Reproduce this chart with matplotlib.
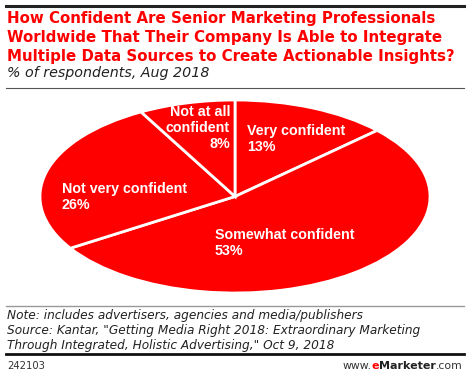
import matplotlib
matplotlib.use("Agg")
import matplotlib.pyplot as plt
from matplotlib.lines import Line2D

categories = ["Very confident", "Somewhat confident", "Not very confident", "Not at all confident"]
values = [13, 53, 26, 8]

RED = "#FF0000"
W, H = 470, 376
fig = plt.figure(figsize=(W / 100, H / 100), dpi=100)
bg = fig.add_axes([0, 0, 1, 1])
bg.set_xlim(0, W)
bg.set_ylim(H, 0)
bg.axis("off")

# rules
bg.add_line(Line2D([6, 464], [6, 6], color="#222222", lw=2.2))
bg.add_line(Line2D([6, 464], [88, 88], color="#555555", lw=0.8))
bg.add_line(Line2D([6, 464], [306, 306], color="#999999", lw=1.0))
bg.add_line(Line2D([6, 464], [354, 354], color="#111111", lw=2.0))

title = ("How Confident Are Senior Marketing Professionals\n"
         "Worldwide That Their Company Is Able to Integrate\n"
         "Multiple Data Sources to Create Actionable Insights?")
bg.text(7, 11, title, color=RED, fontsize=10.8, fontweight="bold",
        va="top", ha="left", linespacing=1.34, family="DejaVu Sans")
bg.text(7, 73.5, "% of respondents, Aug 2018", color="#222222", fontsize=10.3,
        style="italic", va="center", ha="left")

notes = ("Note: includes advertisers, agencies and media/publishers\n"
         "Source: Kantar, \"Getting Media Right 2018: Extraordinary Marketing\n"
         "Through Integrated, Holistic Advertising,\" Oct 9, 2018")
bg.text(7, 309, notes, color="#222222", fontsize=8.7, style="italic",
        va="top", ha="left", linespacing=1.22)
bg.text(7, 366, "242103", color="#333333", fontsize=7.2, va="center", ha="left")

# pie (elliptical)
cx0, cx1, cy0, cy1 = 40, 430, 100, 293
pax = fig.add_axes([cx0 / W, 1 - cy1 / H, (cx1 - cx0) / W, (cy1 - cy0) / H])
pax.pie(values, startangle=90, counterclock=False, colors=[RED] * 4,
        wedgeprops=dict(edgecolor="white", linewidth=2.0))
pax.set_aspect("auto")
pax.set_xlim(-1.0, 1.0)
pax.set_ylim(-1.0, 1.0)
pax.axis("off")

# overlay for labels
ov = fig.add_axes([0, 0, 1, 1])
ov.set_xlim(0, W)
ov.set_ylim(H, 0)
ov.axis("off")
ov.patch.set_alpha(0)

lab = dict(color="white", fontsize=10.3, fontweight="bold", linespacing=1.15,
           family="Liberation Sans")
ov.text(230, 128, "Not at all\nconfident\n8%", ha="right", va="center", **lab)
ov.text(247, 139, "Very confident\n13%", ha="left", va="center", **lab)
ov.text(62, 197, "Not very confident\n26%", ha="left", va="center", **lab)
ov.text(215, 243, "Somewhat confident\n53%", ha="left", va="center", **lab)

# eMarketer logo text
t1 = ov.text(463, 366, ".com", color="#333333", fontsize=7.8, va="center", ha="right")
fig.canvas.draw()
r = fig.canvas.get_renderer()
bb = t1.get_window_extent(r)
t2 = ov.annotate("Marketer", xy=(bb.x0, H - 366), xycoords="figure pixels",
                 fontsize=8, fontweight="bold", color="#222222", ha="right", va="center")
fig.canvas.draw()
bb2 = t2.get_window_extent(r)
t3 = ov.annotate("e", xy=(bb2.x0, H - 366), xycoords="figure pixels", fontsize=8,
                 fontweight="bold", color=RED, ha="right", va="center")
fig.canvas.draw()
bb3 = t3.get_window_extent(r)
ov.annotate("www.", xy=(bb3.x0, H - 366), xycoords="figure pixels", fontsize=7.8,
            color="#333333", ha="right", va="center")

fig.savefig("out.png", dpi=100)
